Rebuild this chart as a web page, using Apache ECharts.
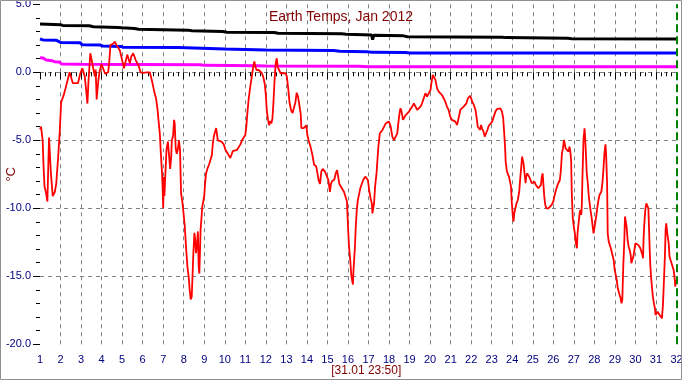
<!DOCTYPE html>
<html>
<head>
<meta charset="utf-8">
<script src="https://cdn.jsdelivr.net/npm/echarts@6/dist/echarts.min.js"></script>
<style>
html,body{margin:0;padding:0;background:#fff;}
#chart{width:682px;height:380px;}
</style>
</head>
<body>
<div id="chart"></div>
<script>
// ---- data (day of month as decimal, temperature in °C) ----
const xTicks = [1,2,3,4,5,6,7,8,9,10,11,12,13,14,15,16,17,18,19,20,21,22,23,24,25,26,27,28,29,30,31,32];
const yTicks = [-20,-15,-10,-5,0,5];

const blackDay  = [1.0,2.0,2.1,3.4,3.6,4.8,5.0,5.6,5.8,8.2,8.4,9.9,10.1,12.4,12.6,15.7,15.9,17.15,17.2,17.25,18.7,18.9,23.5,23.7,26.7,26.9,32.0];
const blackTemp = [3.55,3.5,3.45,3.42,3.35,3.3,3.27,3.22,3.16,3.1,3.05,3.0,2.94,2.92,2.87,2.83,2.79,2.75,2.4,2.72,2.68,2.62,2.58,2.55,2.5,2.47,2.45];

const blueDay  = [1.0,1.15,1.8,2.0,2.95,3.05,3.95,4.05,4.95,5.05,7.75,7.8,10.0,10.05,11.5,12.0,15.3,15.6,16.9,17.15,17.2,17.25,18.8,19.0,32.0];
const blueTemp = [2.45,2.38,2.35,2.2,2.18,2.03,2.0,1.93,1.9,1.84,1.82,1.76,1.72,1.69,1.66,1.64,1.6,1.54,1.52,1.48,1.35,1.48,1.45,1.42,1.42];

const magentaDay  = [1.0,1.15,1.3,1.6,1.7,1.95,2.05,3.0,8.8,9.0,11.5,12.0,16.5,17.0,32.0];
const magentaTemp = [1.07,1.05,0.9,0.85,0.78,0.75,0.61,0.6,0.56,0.51,0.49,0.46,0.44,0.41,0.41];

const redDay = [
1.00,1.05,1.10,1.13,1.17,1.22,1.30,1.36,1.44,1.53,1.62,1.72,1.79,1.89,1.96,2.03,2.15,2.24,2.34,2.44,2.51,2.60,2.85,2.96,3.06,3.13,3.18,3.26,3.31,3.36,3.45,3.52,3.58,3.67,3.71,3.76,3.84,3.91,3.99,4.07,4.17,4.32,4.37,4.43,4.56,4.64,4.73,4.89,4.97,5.09,5.13,5.18,5.25,5.31,5.38,5.44,5.54,5.59,5.66,5.71,5.80,5.90,6.03,6.20,
6.35,6.40,6.48,6.56,6.65,6.73,6.77,6.84,6.89,6.94,6.97,7.00,7.03,7.06,7.10,7.16,7.23,7.29,7.34,7.39,7.42,7.48,7.53,7.56,7.61,7.66,7.71,7.77,7.82,7.87,7.94,7.98,8.05,8.11,8.18,8.24,8.29,8.34,8.39,8.44,8.47,8.52,8.56,8.60,8.65,8.69,8.73,8.76,8.79,8.82,8.87,8.90,8.95,9.00,9.03,9.08,9.15,9.23,9.32,9.37,9.42,9.47,9.52,9.58,9.63,9.66,9.71,9.84,9.95,10.03,10.11,10.19,10.27,10.32,10.39,10.48,10.60,10.68,10.76,10.84,10.92,11.00,11.05,11.10,11.16,11.24,11.29,11.35,11.40,11.44,
11.49,11.55,11.65,11.71,11.81,11.89,11.95,12.00,12.05,12.11,12.16,12.21,12.27,12.32,12.37,12.42,12.48,12.53,12.58,12.64,12.72,12.96,13.02,13.09,13.15,13.23,13.30,13.36,13.44,13.50,13.57,13.63,13.70,13.73,13.84,13.92,13.97,14.02,14.08,14.18,14.27,14.35,14.45,14.53,14.58,14.64,14.70,14.77,14.82,14.88,14.96,15.04,15.12,15.17,15.23,15.33,15.41,15.47,15.52,15.58,15.65,15.73,15.81,15.90,15.95,16.00,16.05,16.11,16.16,16.19,16.24,16.27,16.34,16.38,16.43,16.48,
16.55,16.60,16.68,16.74,16.84,16.90,16.97,17.03,17.10,17.16,17.19,17.24,17.27,17.32,17.39,17.44,17.48,17.55,17.61,17.68,17.76,17.84,17.92,18.00,18.08,18.16,18.24,18.32,18.40,18.45,18.52,18.56,18.61,18.68,18.74,18.81,18.89,18.97,19.05,19.13,19.21,19.29,19.37,19.45,19.53,19.61,19.69,19.77,19.85,19.94,20.02,20.06,20.13,20.19,20.26,20.34,20.42,20.50,20.58,20.66,20.74,20.82,20.90,20.98,21.06,21.15,21.23,21.31,21.35,21.42,21.47,21.55,21.63,21.71,
21.77,21.84,21.89,21.95,22.00,22.05,22.13,22.21,22.27,22.32,22.37,22.44,22.48,22.53,22.60,22.66,22.73,22.79,22.85,22.94,23.02,23.10,23.18,23.26,23.34,23.42,23.50,23.56,23.61,23.65,23.68,23.73,23.77,23.84,23.89,23.94,23.97,24.00,24.03,24.06,24.10,24.15,24.21,24.27,24.34,24.39,24.44,24.48,24.52,24.55,24.60,24.65,24.68,24.73,24.77,24.82,24.89,24.95,25.03,25.08,25.15,25.21,25.27,25.35,25.40,25.44,25.48,25.53,25.56,25.61,25.66,25.76,25.84,25.92,26.00,26.05,26.11,26.18,26.24,26.32,26.37,26.42,26.47,26.52,26.56,26.60,26.65,26.69,26.74,26.79,26.84,
26.87,26.90,26.95,27.00,27.05,27.10,27.15,27.18,27.23,27.28,27.32,27.36,27.39,27.42,27.47,27.52,27.55,27.58,27.63,27.68,27.73,27.78,27.81,27.86,27.91,27.96,28.00,28.05,28.10,28.15,28.20,28.25,28.30,28.34,28.39,28.44,28.49,28.54,28.57,28.62,28.65,28.70,28.75,28.80,28.85,28.89,28.94,28.99,29.04,29.09,29.14,29.19,29.23,29.28,29.32,29.36,29.41,29.46,29.49,29.53,29.57,29.62,29.67,29.72,29.77,29.80,29.85,29.90,29.95,30.00,30.04,30.09,30.14,30.19,30.24,30.29,30.34,30.37,30.40,30.43,30.48,30.53,30.58,30.63,30.66,30.69,30.72,30.76,30.81,30.85,30.90,30.95,30.98,31.03,31.08,31.13,31.18,31.24,31.29,31.34,31.39,31.44,31.47,31.50,31.53,31.55,31.62,31.66,31.71,31.76,31.81,31.86,31.91,31.94,31.97
];
const redTemp = [
-4.2,-4.0,-3.9,-5.0,-6.8,-8.4,-8.9,-9.5,-4.8,-7.4,-9.1,-8.8,-8.2,-6.1,-4.4,-2.2,-1.7,-1.2,-0.6,0.0,0.05,-0.8,-0.8,-0.1,0.3,0.4,-0.3,-1.5,-2.3,-0.7,1.4,1.3,0.4,-0.3,0.2,-2.0,-0.6,0.1,0.6,0.3,-0.1,0.0,0.7,2.0,2.1,2.25,2.0,1.6,1.1,0.3,0.4,0.2,1.3,1.0,0.66,1.15,1.4,1.5,0.9,0.8,0.5,0.0,-0.05,0.0,
0.0,-0.3,-0.8,-1.4,-1.9,-2.8,-3.5,-4.6,-6.1,-7.3,-8.4,-10.0,-7.7,-9.1,-7.7,-5.7,-5.1,-5.2,-7.1,-6.2,-5.0,-4.7,-3.5,-3.75,-5.6,-6.0,-5.7,-5.0,-5.7,-8.9,-9.6,-10.2,-11.3,-12.8,-14.3,-15.0,-16.0,-16.7,-16.5,-14.5,-13.3,-11.8,-12.3,-13.3,-12.6,-11.7,-14.3,-14.8,-13.3,-11.6,-10.6,-9.9,-9.5,-9.1,-8.4,-7.5,-7.1,-6.8,-6.7,-6.1,-5.2,-4.7,-4.4,-4.1,-4.2,-5.0,-5.1,-5.1,-5.3,-5.7,-5.8,-6.1,-6.3,-6.2,-5.8,-5.7,-5.7,-5.6,-5.3,-5.0,-4.9,-4.6,-4.0,-3.0,-2.0,-1.05,-0.56,0.05,0.54,0.8,
0.4,0.17,0.17,0.05,-0.07,-0.44,-0.9,-1.7,-2.9,-3.5,-3.9,-3.6,-3.75,-3.4,-2.2,-0.7,0.66,1.03,0.4,0.17,-0.07,-0.07,-0.3,-1.2,-2.2,-2.8,-3.0,-2.9,-2.2,-1.5,-1.8,-2.4,-3.1,-4.1,-4.1,-4.0,-3.9,-4.6,-5.0,-5.5,-6.1,-6.8,-6.9,-6.8,-8.0,-8.2,-7.3,-7.1,-7.1,-7.3,-7.4,-7.9,-8.8,-8.2,-8.0,-7.9,-7.4,-7.2,-7.1,-8.2,-8.4,-8.5,-8.8,-8.8,-9.5,-11.3,-12.8,-13.8,-14.9,-15.2,-15.6,-14.5,-12.8,-11.3,-10.1,-9.4,
-9.26,-8.53,-8.41,-7.92,-7.67,-7.55,-7.92,-8.65,-9.26,-9.63,-10.37,-10.49,-9.63,-8.41,-7.43,-6.32,-5.47,-4.49,-4.36,-4.24,-4.0,-3.75,-3.63,-3.63,-4.0,-4.73,-4.98,-4.98,-4.49,-3.75,-2.89,-2.65,-2.89,-3.5,-3.38,-3.14,-3.01,-2.89,-2.77,-2.52,-2.28,-2.28,-2.77,-2.89,-2.52,-2.28,-2.16,-1.54,-1.79,-1.91,-1.3,-0.81,-0.2,-0.32,-0.56,-1.18,-1.42,-1.54,-1.67,-1.91,-2.16,-2.52,-2.77,-3.26,-3.5,-3.5,-3.63,-3.87,-3.63,-3.14,-2.77,-2.65,-2.52,-2.52,
-2.28,-1.91,-2.03,-1.74,-1.91,-2.16,-2.4,-2.77,-3.38,-4.0,-4.12,-4.24,-3.87,-4.12,-4.36,-4.73,-4.61,-4.24,-3.95,-3.87,-3.63,-3.26,-2.89,-2.7,-2.6,-2.65,-2.89,-3.38,-4.49,-5.47,-6.57,-7.18,-7.43,-7.67,-8.04,-8.41,-9.39,-10.0,-10.61,-10.98,-10.37,-10.0,-9.63,-9.39,-8.77,-7.79,-6.94,-6.2,-6.32,-6.69,-6.81,-8.16,-7.67,-7.43,-7.3,-7.67,-7.92,-8.16,-8.16,-8.04,-8.28,-8.41,-8.53,-8.41,-8.28,-7.67,-7.43,-7.3,-9.14,-9.75,-10.0,-10.0,-9.88,-9.75,-9.5,-9.14,-8.77,-8.41,-8.16,-7.92,-7.18,-5.96,-5.59,-4.98,-4.85,-5.59,-5.71,-5.47,-5.83,-5.47,-5.96,
-6.57,-8.9,-10.74,-11.35,-11.84,-12.57,-12.94,-11.84,-11.1,-10.37,-10.12,-10.49,-9.75,-7.67,-4.98,-4.12,-4.73,-5.71,-7.43,-8.16,-9.14,-9.75,-10.12,-10.61,-11.23,-11.84,-11.47,-10.98,-10.49,-9.88,-9.39,-9.02,-8.9,-8.77,-8.16,-7.18,-5.96,-5.29,-5.96,-8.16,-11.84,-12.45,-12.57,-12.94,-12.94,-13.06,-13.8,-14.53,-14.9,-15.27,-15.88,-16.0,-16.37,-16.62,-16.99,-16.74,-14.17,-12.33,-10.61,-10.49,-11.35,-12.33,-12.82,-13.06,-13.43,-14.04,-13.92,-13.55,-13.06,-12.57,-12.45,-12.45,-12.7,-12.82,-12.94,-13.06,-13.43,-13.68,-12.08,-11.23,-10.12,-9.63,-9.63,-10.0,-11.35,-12.82,-14.04,-15.02,-15.88,-16.5,-16.99,-17.35,-17.84,-17.72,-17.6,-17.72,-17.84,-17.97,-18.09,-17.1,-15.27,-13.31,-11.59,-11.1,-10.98,-11.84,-12.57,-13.55,-13.8,-13.92,-14.29,-14.53,-15.15,-15.76,-15.27
];

const pairs = (xs, ys) => xs.map((x, i) => [x, ys[i]]);
const FONT = '"Liberation Sans", Arial, sans-serif';
const NAVY = '#000080';
const DARKRED = '#800000';

const chart = echarts.init(document.getElementById('chart'), null, {renderer: 'canvas'});
chart.setOption({
  backgroundColor: '#ffffff',
  animation: false,
  title: {
    text: 'Earth Temps, Jan 2012',
    left: 'center',
    top: 5,
    textStyle: {color: DARKRED, fontSize: 14, fontWeight: 'normal', fontFamily: FONT}
  },
  graphic: [{
    type: 'rect', silent: true, z: 100,
    shape: {x: 0.5, y: 0.5, width: 681, height: 379},
    style: {fill: 'none', stroke: '#909090', lineWidth: 1}
  }],
  grid: {left: 40, right: 5.5, top: 4.3, bottom: 35.7, containLabel: false, outerBoundsMode: 'none'},
  xAxis: {
    type: 'value', min: xTicks[0], max: xTicks[xTicks.length - 1], interval: 1,
    name: '[31.01 23:50]', nameLocation: 'middle', nameGap: 20, nameMoveOverlap: false,
    nameTextStyle: {color: DARKRED, fontSize: 12, fontFamily: FONT, padding: [0, 0, 0, 16]},
    axisLine: {show: false},
    axisTick: {show: true, length: 7, lineStyle: {color: '#000'}},
    minorTick: {show: true, splitNumber: 4, length: 4, lineStyle: {color: '#000'}},
    axisLabel: {color: NAVY, fontSize: 11, fontFamily: FONT, margin: 10, hideOverlap: false},
    splitLine: {show: true, showMinLine: false, showMaxLine: false, lineStyle: {color: '#808080', type: [4, 4], width: 1}}
  },
  yAxis: {
    type: 'value', min: yTicks[0], max: yTicks[yTicks.length - 1], interval: 5,
    name: '°C', nameLocation: 'middle', nameGap: 22, nameMoveOverlap: false,
    nameTextStyle: {color: DARKRED, fontSize: 13, fontFamily: FONT},
    axisLine: {show: false},
    axisTick: {show: true, length: 7, lineStyle: {color: '#000'}},
    minorTick: {show: true, splitNumber: 5, length: 4, lineStyle: {color: '#000'}},
    axisLabel: {color: NAVY, fontSize: 11, fontFamily: FONT, margin: 9, formatter: v => v.toFixed(1)},
    splitLine: {show: true, showMinLine: false, showMaxLine: false, lineStyle: {color: '#808080', type: [4, 4], width: 1}}
  },
  series: [
    {
      type: 'line', data: pairs(blackDay, blackTemp), showSymbol: false, symbol: 'none',
      lineStyle: {color: '#000000', width: 3}, z: 3,
      markLine: {
        silent: true, symbol: 'none', label: {show: false},
        lineStyle: {color: '#008000', type: [8, 4], width: 2},
        data: [{xAxis: xTicks[xTicks.length - 1]}]
      }
    },
    {type: 'line', data: pairs(blueDay, blueTemp), showSymbol: false, symbol: 'none', lineStyle: {color: '#0000ff', width: 3}, z: 3},
    {type: 'line', data: pairs(magentaDay, magentaTemp), showSymbol: false, symbol: 'none', lineStyle: {color: '#ff00ff', width: 3}, z: 3},
    {type: 'line', data: pairs(redDay, redTemp), showSymbol: false, symbol: 'none', lineStyle: {color: '#ff0000', width: 1.8}, z: 4}
  ]
});
</script>
</body>
</html>
